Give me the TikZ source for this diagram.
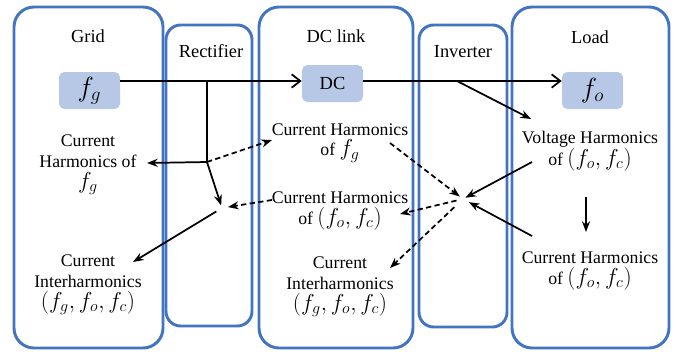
\documentclass[tikz,border=0pt]{standalone}
\usepackage{fontspec}
\setmainfont{Liberation Serif}
\usetikzlibrary{arrows.meta}
\definecolor{panelblue}{RGB}{66,116,194}
\definecolor{boxblue}{RGB}{182,200,230}
\newcommand{\fq}[1]{{\fontsize{17.5}{18}\selectfont$#1$}}
\begin{document}
\begin{tikzpicture}[x=0.75pt,y=0.75pt,yscale=-1,xscale=1,
  panel/.style={draw=panelblue,line width=2.2pt,rounded corners=15pt},
  smallpanel/.style={panel,rounded corners=11pt},
  freqbox/.style={fill=boxblue,rounded corners=4pt,minimum width=45.75pt,minimum height=27.75pt,font=\fontsize{21}{22}\selectfont},
  lbl/.style={align=center,inner sep=1pt,font=\fontsize{13.3}{15.5}\selectfont},
  title/.style={inner sep=1pt,font=\fontsize{13.8}{16}\selectfont},
  mainarr/.style={-{Straight Barb[length=6.5pt,width=10pt]},line width=1.3pt},
  arr/.style={-{Stealth[length=8pt,width=6pt]},line width=1.3pt},
  darr/.style={arr,dash pattern=on 4pt off 2.5pt}]
\useasboundingbox (0,0) rectangle (682,354);
% panels
\draw[panel] (14,7) rectangle (163,348);
\draw[smallpanel] (166,25) rectangle (252,326);
\draw[panel] (259,7) rectangle (413,348);
\draw[smallpanel] (419,25) rectangle (507,327);
\draw[panel] (512,7) rectangle (669,348);
% titles
\node[title] (t-grid) at (88,36) {Grid};
\node[title] (t-rect) at (211,51) {Rectifier};
\node[title] (t-dc) at (336,36) {DC link};
\node[title] (t-inv) at (463,52) {Inverter};
\node[title] (t-load) at (590,37) {Load};
% frequency boxes
\node[freqbox] (fg) at (89.5,90.5) {$f_g$};
\node[freqbox] (dc) at (332.5,83.5) {\fontsize{13.8}{16}\selectfont DC};
\node[freqbox] (fo) at (592.5,90.5) {$f_o$};
% labels
\node[lbl] (gh) at (88,165) {Current\\Harmonics of\\\fq{f_g}};
\node[lbl] (gi) at (88,285) {Current\\Interharmonics\\\fq{(f_g,f_o,f_c)}};
\node[lbl] (dh1) at (340,143) {Current Harmonics\\of \fq{f_g}};
\node[lbl] (dh2) at (340,211) {Current Harmonics\\of \fq{(f_o,f_c)}};
\node[lbl] (di) at (340,287) {Current\\Interharmonics\\\fq{(f_g,f_o,f_c)}};
\node[lbl] (vh) at (590,151) {Voltage Harmonics\\of \fq{(f_o,f_c)}};
\node[lbl] (lh) at (590,271) {Current Harmonics\\of \fq{(f_o,f_c)}};
% junctions and arrow ends
\coordinate (split-g) at (207,81);
\coordinate (split-r) at (207,162);
\coordinate (split-i) at (457,81);
\coordinate (rect-hub) at (222,208);
\coordinate (inv-hub) at (463,199);
\coordinate (gh-tip) at (147,163);
\coordinate (dh1-tip) at (272,140);
\coordinate (dh1-out) at (390,143);
\coordinate (dh2-in) at (272,200);
\coordinate (dh2-tip) at (400,214);
\coordinate (gi-tip) at (133,262);
\coordinate (di-tip) at (390,268);
\coordinate (vh-tip) at (531,119);
\coordinate (vh-out) at (532,162);
\coordinate (vh-low) at (586,197);
\coordinate (lh-top) at (586,232);
\coordinate (lh-out) at (532,236);
% main power flow
\draw[mainarr] (fg.east |- split-g) -- (dc.west |- split-g);
\draw[mainarr] (dc.east |- split-g) -- (fo.west |- split-g);
% rectifier side
\draw[line width=1.3pt] (split-g) -- (split-r);
\draw[arr] (split-r) -- (gh-tip);
\draw[darr] (split-r) -- (dh1-tip);
\draw[arr,shorten >=2pt] (split-r) -- (rect-hub);
\draw[darr,shorten >=4.5pt] (dh2-in) -- (rect-hub);
\draw[arr,shorten <=5pt] (rect-hub) -- (gi-tip);
% inverter side
\draw[arr] (split-i) -- (vh-tip);
\draw[darr,shorten >=3pt] (dh1-out) -- (inv-hub);
\draw[arr,shorten >=2pt] (vh-out) -- (inv-hub);
\draw[arr,shorten >=5pt] (lh-out) -- (inv-hub);
\draw[darr,shorten <=5pt] (inv-hub) -- (dh2-tip);
\draw[darr,shorten <=9pt] (inv-hub) -- (di-tip);
\draw[arr] (vh-low) -- (lh-top);
\end{tikzpicture}
\end{document}
